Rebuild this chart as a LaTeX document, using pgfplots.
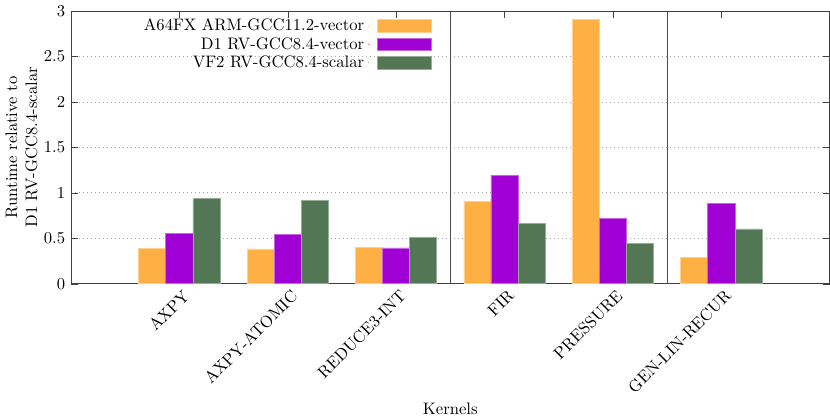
\documentclass[border=0pt]{standalone}
\usepackage{pgfplots}
\pgfplotsset{compat=1.18}
\definecolor{cOrange}{HTML}{FFB045}
\definecolor{cViolet}{HTML}{A000D4}
\definecolor{cGreen}{HTML}{537654}
\begin{document}
\begin{tikzpicture}
\begin{axis}[
    scale only axis,
    width=456pt, height=164pt,
    ybar=0pt, bar width=0.25,
    xmin=-1, xmax=6, ymin=0, ymax=3,
    xtick={0,1,2,3,4,5},
    xticklabels={AXPY,AXPY-ATOMIC,REDUCE3-INT,FIR,PRESSURE,GEN-LIN-RECUR},
    xticklabel style={rotate=45, anchor=north east, inner sep=1pt, yshift=-2pt},
    ytick={0,0.5,1,1.5,2,2.5,3},
    tick align=inside,
    major tick length=4pt,
    axis line style={black!75},
    tick style={black!75},
    ymajorgrids,
    major grid style={dotted, black!35},
    extra x ticks={2.5,4.5},
    extra x tick labels={},
    extra x tick style={grid=major, major grid style={solid, black!70, line width=0.5pt}, major tick length=0pt},
    xlabel={Kernels},
    ylabel={Runtime relative to\\D1 RV-GCC8.4-scalar},
    ylabel style={align=center, yshift=-3pt},
    legend style={at={(0.482,0.997)}, anchor=north east, draw=none, fill=none,
        row sep=-1.5pt},
    legend cell align=right,
    legend plot pos=right,
    legend image code/.code={\path (0pt,0pt) -- (1pt,0pt);
        \draw[#1] (6pt,-3.7pt) rectangle (38pt,3.7pt);},
]
\addplot[fill=cOrange, draw=cOrange!60!white] coordinates {
(0,0.387) (1,0.384) (2,0.402) (3,0.902) (4,2.906) (5,0.288)};
\addplot[fill=cViolet, draw=cViolet!60!white] coordinates {
(0,0.552) (1,0.545) (2,0.395) (3,1.195) (4,0.720) (5,0.880)};
\addplot[fill=cGreen, draw=cGreen!60!white] coordinates {
(0,0.935) (1,0.918) (2,0.512) (3,0.665) (4,0.446) (5,0.603)};
\legend{A64FX ARM-GCC11.2-vector,D1 RV-GCC8.4-vector,VF2 RV-GCC8.4-scalar}
\end{axis}
\end{tikzpicture}
\end{document}
